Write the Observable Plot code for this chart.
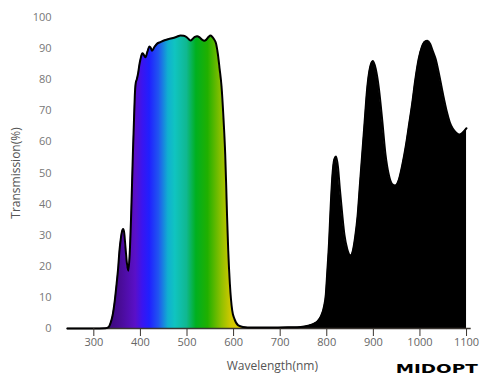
<!DOCTYPE html>
<html><head><meta charset="utf-8">
<script src="https://cdn.jsdelivr.net/npm/d3@7"></script>
<script src="https://cdn.jsdelivr.net/npm/@observablehq/plot@0.6"></script>
<style>body{margin:0;background:#fff}</style>
</head><body><div id="chart"></div>
<script>
const wavelength = [243, 300, 325, 332, 336, 340, 345, 349, 352, 355, 358, 361, 363, 365, 368, 371, 374, 377, 380, 384, 386, 388, 390, 392, 395, 398, 400, 403, 405, 408, 411, 415, 419.5, 422, 425, 430, 436, 443, 452, 461, 470, 478, 486, 493, 500, 504, 508, 512, 517, 522, 527, 532, 537, 541, 546, 550.5, 554, 558, 562, 566, 570, 574, 578.5, 582, 584, 586, 588.5, 592, 597, 602, 610, 620, 640, 680, 720, 744, 760, 772, 780, 787, 794, 798, 801, 805, 808, 812, 816, 820, 824, 828, 833, 838, 844, 851, 856, 861, 866, 871, 876, 881, 887, 893, 899, 905, 912, 919, 926, 933, 940, 947, 955, 962, 970, 977, 983, 990, 997, 1004, 1010, 1016, 1022, 1028, 1034, 1040, 1046, 1052, 1058, 1064, 1070, 1076, 1082, 1086, 1092, 1100];
const transmission = [0, 0, 0.1, 0.5, 1.8, 4, 9, 14.5, 19, 25, 29, 31.5, 32, 31, 26, 21, 18.6, 24, 36, 57, 66, 75, 79, 80, 82, 85, 86.5, 88.2, 88.5, 87.8, 87.2, 89, 90.7, 90.3, 89.3, 90.5, 91.6, 92.1, 92.7, 93.1, 93.4, 93.8, 94.2, 94.1, 93.6, 93, 92.6, 93.1, 93.8, 94, 93.6, 92.9, 92.5, 92.8, 93.7, 94.2, 93.8, 93, 91.8, 88.5, 83.5, 78, 67, 56, 46.5, 36, 25, 14.4, 5.8, 3, 1, 0.5, 0.3, 0.3, 0.4, 0.5, 0.9, 1.5, 2.3, 3.8, 7, 11, 18, 28, 38, 49, 54.3, 55.3, 52, 45, 37, 30, 25.5, 23.5, 25, 29.5, 36, 46, 56, 66, 77.6, 84, 86, 83.5, 77, 67, 56, 49.5, 46.5, 46, 48, 52.5, 59, 66, 72, 80, 86.5, 90.5, 92.2, 92.5, 91.5, 89, 86.5, 82.5, 78, 73.5, 69.5, 66.3, 64.4, 63.2, 62.5, 62.4, 63, 64.4];
const xTicks = [300, 400, 500, 600, 700, 800, 900, 1000, 1100];
const yTicks = [0, 10, 20, 30, 40, 50, 60, 70, 80, 90, 100];
const xTitle = "Wavelength(nm)";
const yTitle = "Transmission(%)";
const brand = "MIDOPT";

// spectral fill style (wavelength -> colour)
const spectrumStops = [
  [330, "#3a0878"], [360, "#4a0c9a"], [390, "#5a10c8"], [405, "#3a14f0"],
  [420, "#2020ff"], [440, "#2056f0"], [460, "#10b0d0"], [475, "#10c4c0"],
  [500, "#10b890"], [520, "#00b020"], [545, "#20b000"], [575, "#90c000"],
  [595, "#d0c800"], [615, "#e0d000"], [628, "#000000"], [1110, "#000000"]
];

const data = wavelength.map((w, i) => ({w, t: transmission[i]}));

const gradientDefs = (index, scales) => {
  const ns = "http://www.w3.org/2000/svg";
  const defs = document.createElementNS(ns, "defs");
  const lg = document.createElementNS(ns, "linearGradient");
  lg.setAttribute("id", "spectrum");
  lg.setAttribute("gradientUnits", "userSpaceOnUse");
  const x1 = scales.x(spectrumStops[0][0]);
  const x2 = scales.x(spectrumStops[spectrumStops.length - 1][0]);
  lg.setAttribute("x1", x1); lg.setAttribute("x2", x2);
  lg.setAttribute("y1", 0); lg.setAttribute("y2", 0);
  for (const [w, c] of spectrumStops) {
    const s = document.createElementNS(ns, "stop");
    s.setAttribute("offset", (scales.x(w) - x1) / (x2 - x1));
    s.setAttribute("stop-color", c);
    lg.appendChild(s);
  }
  defs.appendChild(lg);
  return defs;
};

const chart = Plot.plot({
  width: 500,
  height: 388,
  marginLeft: 67,
  marginRight: 29.3,
  marginTop: 17,
  marginBottom: 60,
  style: {fontFamily: "'Open Sans', sans-serif", background: "#fff"},
  x: {domain: [243.5, 1110]},
  y: {domain: [0, 100]},
  marks: [
    gradientDefs,
    Plot.areaY(data, {x: "w", y: "t", fill: "url(#spectrum)", curve: "monotone-x"}),
    Plot.ruleY([0], {stroke: "#3a3530", strokeWidth: 1.5}),
    Plot.lineY(data, {x: "w", y: "t", stroke: "#000", strokeWidth: 2, curve: "monotone-x"}),
    Plot.axisX({ticks: xTicks, tickFormat: d => String(d), tickSize: 8, tickPadding: 2, stroke: "#3a3530", fill: "#666", fontSize: 11, label: null}),
    Plot.axisY({ticks: yTicks, tickFormat: d => String(d), tickSize: 0, tickPadding: 16, fill: "#777", fontSize: 11, label: null}),
    Plot.text([xTitle], {frameAnchor: "bottom", textAnchor: "middle", dx: 3, dy: 41, fill: "#555", fontSize: 12}),
    Plot.text([yTitle], {frameAnchor: "left", textAnchor: "middle", dx: -51, rotate: -90, fill: "#555", fontSize: 12}),
    Plot.text([brand], {frameAnchor: "bottom-right", dx: 6.5, dy: 44, textAnchor: "end", fill: "#000", fontSize: 12.5, fontWeight: "bold", fontFamily: "'DejaVu Sans', sans-serif"})
  ]
});
document.getElementById("chart").appendChild(chart);
d3.select(chart).selectAll("text")
  .filter(function() { return this.textContent === brand; })
  .attr("textLength", 82).attr("lengthAdjust", "spacingAndGlyphs");
</script>
</body></html>
